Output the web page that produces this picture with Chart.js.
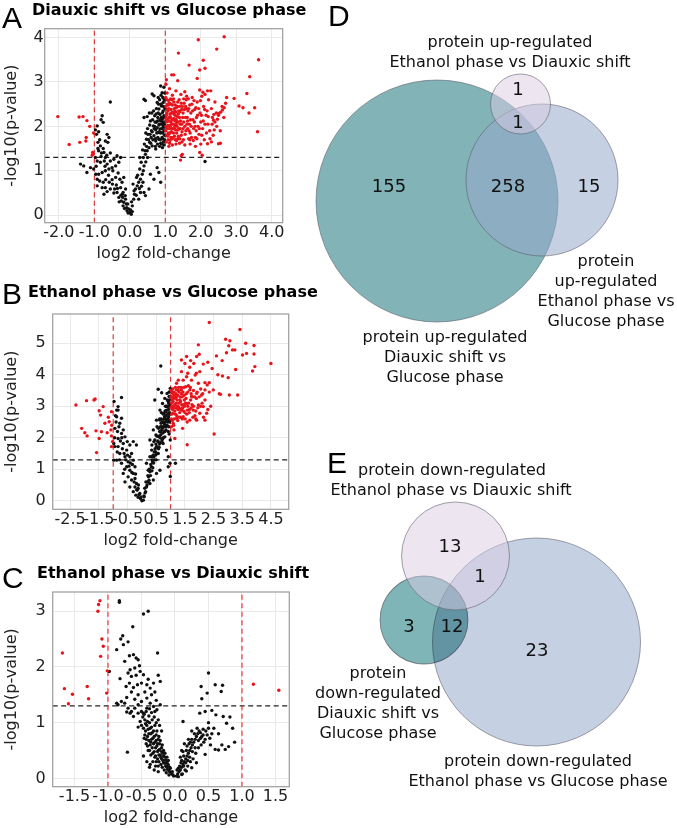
<!DOCTYPE html>
<html><head><meta charset="utf-8">
<script src="https://cdn.jsdelivr.net/npm/chart.js@4/dist/chart.umd.min.js"></script>
<style>
body{margin:0;width:677px;height:828px;position:relative;background:#fff;overflow:hidden;font-family:"DejaVu Sans",sans-serif;color:#111;}
canvas{position:absolute;}
.letter{position:absolute;font-family:"Liberation Sans",Arial,sans-serif;font-size:30px;line-height:1;color:#000;z-index:2;}
.ptitle{position:absolute;font-weight:bold;font-size:16px;line-height:1;white-space:nowrap;color:#000;z-index:2;}
.vl{position:absolute;font-size:16px;line-height:20px;white-space:nowrap;transform:translateX(-50%);color:#111;z-index:2;}
</style></head>
<body>
<canvas id="cA" width="300" height="263" style="left:0px;top:0px"></canvas>
<canvas id="cB" width="300" height="280" style="left:0px;top:270px"></canvas>
<canvas id="cC" width="300" height="267" style="left:0px;top:560px"></canvas>
<canvas id="cD" width="377" height="400" style="left:300px;top:0px"></canvas>
<canvas id="cE" width="377" height="428" style="left:300px;top:400px"></canvas>

<div class="letter" style="left:2px;top:3px">A</div>
<div class="ptitle" style="left:32px;top:2px">Diauxic shift vs Glucose phase</div>
<div class="letter" style="left:2px;top:279px">B</div>
<div class="ptitle" style="left:28px;top:284px">Ethanol phase vs Glucose phase</div>
<div class="letter" style="left:2px;top:563px">C</div>
<div class="ptitle" style="left:37px;top:565px">Ethanol phase vs Diauxic shift</div>
<div class="letter" style="left:328px;top:1px">D</div>
<div class="letter" style="left:327px;top:448px">E</div>

<div class="vl" style="left:510px;top:32px">protein up-regulated</div>
<div class="vl" style="left:510px;top:52px">Ethanol phase vs Diauxic shift</div>
<div class="vl" style="left:606px;top:251px">protein</div>
<div class="vl" style="left:606px;top:271px">up-regulated</div>
<div class="vl" style="left:606px;top:291px">Ethanol phase vs</div>
<div class="vl" style="left:606px;top:311px">Glucose phase</div>
<div class="vl" style="left:445px;top:327px">protein up-regulated</div>
<div class="vl" style="left:445px;top:347px">Diauxic shift vs</div>
<div class="vl" style="left:445px;top:367px">Glucose phase</div>

<div class="vl" style="left:452px;top:460px">protein down-regulated</div>
<div class="vl" style="left:451px;top:480px">Ethanol phase vs Diauxic shift</div>
<div class="vl" style="left:378px;top:663px">protein</div>
<div class="vl" style="left:378px;top:683px">down-regulated</div>
<div class="vl" style="left:378px;top:703px">Diauxic shift vs</div>
<div class="vl" style="left:378px;top:723px">Glucose phase</div>
<div class="vl" style="left:538px;top:751px">protein down-regulated</div>
<div class="vl" style="left:538px;top:771px">Ethanol phase vs Glucose phase</div>

<script>
// ---------- Panel A: Diauxic shift vs Glucose phase ----------
const aSig = [
[-2.03,2.22],[-1.71,1.59],[-1.43,2.21],[-1.32,2.22],[-1.21,2.13],[-1.13,2.0],[-1.41,1.64],[-1.24,1.67],[-1.23,1.75],[-1.02,1.85],[-1.05,1.41],[-1.06,1.35],[-1.03,1.38],
[1.93,3.95],[2.66,4.02],[1.37,3.65],[2.45,3.74],[1.67,3.38],[2.07,3.49],[1.97,3.27],[2.12,3.31],[3.63,3.5],[3.38,3.12],[1.9,3.08],[1.18,3.16],[1.24,3.16],[1.03,3.05],[1.35,3.03],[1.02,2.95],
[3.3,2.74],[3.52,2.42],[3.36,2.3],[3.6,1.88],[3.08,2.46],[3.19,2.42],[2.94,2.63],[2.73,2.65],[2.7,2.52],[2.66,2.42],[2.61,2.37],[2.56,2.32],[2.51,2.29],[2.37,2.27],[2.33,2.2],[2.47,2.16],[2.36,2.14],[2.28,2.8],[2.19,2.8],[2.12,2.72],[1.97,2.82],[2.03,2.68],[2.06,2.77],
[2.5,1.61],[2.19,1.61],[1.69,1.7],[1.48,1.37],[1.97,1.41],[1.43,1.24],[2.04,1.35],[1.45,1.34],
[1.02,2.45],[1.05,2.6],[1.08,2.35],[1.1,2.2],[1.03,2.1],[1.06,1.95],[1.04,1.8],[1.08,1.7],[1.12,1.62],[1.15,2.5],[1.18,2.3],[1.2,2.15],[1.14,2.0],[1.17,1.88],[1.22,1.75],[1.25,2.4],[1.28,2.25],[1.3,2.05],[1.26,1.95],[1.32,1.85],[1.35,2.55],[1.38,2.35],[1.4,2.2],[1.36,2.1],[1.42,1.95],[1.45,1.8],[1.48,2.45],[1.5,2.3],[1.52,2.1],[1.55,2.0],[1.47,1.65],[1.58,1.9],[1.6,2.4],[1.62,2.2],[1.65,2.62],[1.68,2.05],[1.7,1.85],[1.72,2.3],[1.75,2.5],[1.78,2.15],[1.8,1.95],[1.83,2.38],[1.85,1.75],[1.88,2.2],[1.9,2.55],[1.92,2.0],[1.95,1.82],[1.98,2.3],[2.0,2.1],[2.05,1.95],[2.08,2.45],[2.1,1.7],[2.15,2.25],[2.2,2.05],[2.25,1.9],[2.3,2.4],[2.35,1.8],[2.4,2.1],[2.45,2.0],[2.5,2.25],[2.55,1.9],
[1.05,2.75],[1.12,2.85],[1.2,2.7],[1.3,2.8],[1.44,2.72],[1.55,2.78],[1.6,2.68],[1.1,1.55],[1.2,1.58],[1.3,1.6],[1.4,1.62],[1.55,1.58],[1.7,1.6],[1.85,1.55],[2.0,1.6],[2.3,1.65],[2.55,1.62],
[1.1,1.82],[1.16,2.38],[1.22,2.05],[1.34,2.45],[1.28,1.7],[1.03,2.25],[1.07,2.02],[1.11,2.12],[1.09,2.48],[1.13,2.28],[1.19,1.95],[1.24,2.55],[1.27,2.12],[1.37,1.78],[1.41,2.33],[1.46,2.05],[1.53,2.52],[1.57,2.2],[1.63,1.95],[1.66,1.72],[1.73,2.0],[1.76,2.65],[1.82,2.1],[1.87,1.9],[1.94,2.4],[2.02,2.25],[2.12,2.05],[2.18,2.35],[2.22,2.6],[2.4,2.55],[2.6,2.45],[2.65,2.2],
[1.01,1.9],[1.02,2.0],[1.04,2.3],[1.06,2.15],[1.08,1.85],[1.1,2.4],[1.12,1.95],[1.14,2.22],[1.16,1.75],[1.18,2.05],[1.2,2.48],[1.23,1.85],[1.25,2.18],[1.27,2.35],[1.29,1.92],[1.31,2.15],[1.33,2.0],[1.35,1.72],[1.38,1.95],[1.4,2.45],
[1.01,2.65],[1.03,1.65],[1.05,2.38],[1.07,1.78],[1.09,2.58],[1.11,2.02],[1.13,1.68],[1.15,2.62],[1.17,2.18],[1.19,1.72],[1.21,2.32],[1.23,2.62],[1.26,1.78],[1.28,2.48],[1.3,2.32],[1.32,1.68],[1.34,2.22],[1.36,1.92],[1.39,2.6],[1.41,1.72],[1.43,2.12],[1.45,2.52],[1.47,1.88],[1.49,2.2],[1.51,1.7],[1.54,2.38],[1.56,1.82],[1.59,2.6],[1.61,2.05],[1.64,2.35],[1.67,1.9],[1.69,2.48],[1.71,2.15],[1.74,1.75],[1.77,2.35],[1.79,1.68],[1.81,2.58],[1.84,2.0],[1.86,2.42],[1.89,1.72],[1.91,2.25],[1.96,1.95],[1.99,2.58],[2.03,1.8],[2.07,2.12],[2.11,2.38],[2.16,1.85],[2.21,2.22],[2.26,1.72],[2.32,2.05],[2.38,1.92],[2.44,2.3],[1.02,2.18],[1.04,1.98],[1.06,2.5],[1.08,2.12],[1.12,2.52],[1.14,1.86],[1.16,2.1],[1.18,2.6],[1.21,1.95],[1.24,2.28],[1.27,2.0],[1.31,2.42],[1.33,2.1],[1.37,2.28],[1.42,2.05],[1.46,2.38],[1.5,1.95],[1.52,2.62],[1.57,2.45],[1.63,2.12],[1.66,2.4]
];
const aNs = [
[-0.55,2.55],[-0.78,2.24],[-0.81,2.15],[-0.75,2.09],[-0.92,2.01],[-0.97,1.92],[-0.88,1.88],[-0.94,1.82],[-0.64,1.82],[-0.59,1.75],[-0.69,1.67],[-0.62,1.64],[-0.9,1.64],[-0.83,1.56],[-0.75,1.5],[-0.88,1.45],[-0.73,1.41],[-0.81,1.32],[-0.69,1.3],[-0.97,1.3],[-0.92,1.22],[-0.83,1.19],[-0.72,1.22],[-0.64,1.15],[-0.55,1.22],[-0.45,1.26],[-0.36,1.34],[-0.26,1.3],[-0.31,1.19],[-0.4,1.11],[-0.5,1.07],[-0.59,1.04],[-0.69,1.0],[-0.78,0.96],[-0.88,0.92],[-0.92,0.81],[-0.85,0.77],[-0.75,0.74],[-0.68,0.8],[-0.58,0.74],[-0.49,0.7],[-0.43,0.59],[-0.36,0.51],[-0.26,0.62],[-0.22,0.74],[-0.17,0.85],[-0.28,0.81],[-0.38,0.68],[-0.55,0.59],[-0.64,0.53],[-0.73,0.47],[-0.69,0.62],[-0.78,0.62],[-0.31,0.4],[-0.24,0.32],[-0.17,0.29],[-0.12,0.36],[-0.19,0.21],[-0.09,0.17],[-0.03,0.14],[-0.08,0.1],[0,0.06],[0.04,0.02],[0.07,0.08],[-0.06,0.25],[-0.13,0.44],[-0.21,0.47],[-1.3,1.11],[-1.21,0.96],[-1.39,1.15],[-1.11,1.07],[-1.02,1.04],[-0.96,0.92],[-0.92,0.66],[-0.19,0.51],[-0.12,0.59],
[0.07,0.21],[0.11,0.36],[0.13,0.47],[0.16,0.59],[0.21,0.66],[0.09,0.7],[0.25,0.74],[0.3,0.81],[0.19,0.85],[0.35,0.92],[0.28,1.04],[0.4,1.11],[0.32,1.19],[0.38,1.3],[0.44,1.37],[0.49,1.45],[0.36,1.47],[0.54,1.52],[0.41,1.6],[0.56,1.64],[0.47,1.71],[0.6,1.75],[0.68,1.79],[0.51,1.82],[0.63,1.88],[0.73,1.92],[0.77,1.97],[0.82,2.03],[0.66,2.01],[0.56,2.03],[0.75,2.09],[0.87,2.12],[0.91,2.16],[0.79,2.2],[0.7,2.24],[0.85,2.27],[0.92,2.31],[0.4,2.2],[0.49,2.22],[0.58,2.12],[0.82,2.39],[0.89,2.46],[0.94,2.54],[0.77,2.54],[0.68,2.69],[0.91,2.76],[0.96,2.88],[0.87,2.91],[0.63,2.73],[0.44,2.58],[0.4,2.61],[0.73,1.67],[0.82,1.71],[0.91,1.75],[0.89,1.86],[0.96,1.9],[0.79,1.86],[0.94,2.01],[0.96,2.24],[0.85,1.94],[0.63,1.56],[0.73,1.49],[0.82,0.96],[0.77,1.07],[0.68,0.81],[0.87,0.74],[0.58,0.92],[0.54,0.59],[0.44,0.44],[0.4,0.51],[0.3,0.51],[0.25,0.36],[0.37,0.74],[0.28,1.3],
[0.95,1.65],[0.98,1.8],[0.93,2.1],[0.97,2.2],[0.99,2.4],[0.9,1.6],[0.86,1.85],[0.84,2.05],[0.8,2.3],[0.92,1.72],[0.97,2.6],[0.88,2.5],[0.75,2.4],[0.7,2.0],[0.62,2.3],[0.96,1.98],[0.99,2.1],[0.94,2.35],[0.9,1.95],[0.86,1.7],[2.12,1.21],
[0.98,1.7],[0.97,2.05],[0.95,2.45],[0.93,1.85],[0.91,2.05],[0.89,2.2],[0.87,1.62],[0.85,2.15],[0.83,1.88],[0.81,2.5],[0.79,1.75],[0.78,2.12],[0.76,1.85],[0.74,2.28],[0.72,1.72],[0.71,2.1],[0.69,1.95],[0.67,2.35],[0.65,1.7],[0.64,2.15],[0.61,1.9],[0.59,1.62],[0.57,1.82],[0.55,2.3],[0.53,1.7],[0.5,1.95],[0.47,1.55],[0.45,1.85],[0.43,1.45],[0.99,2.6],[0.98,2.75],[0.93,2.65],[0.88,2.7],[0.84,2.6],[0.8,2.65],[0.96,1.58],[0.92,1.52],[0.84,1.55],[0.78,1.6],[0.72,1.55],
[-0.85,1.7],[-0.8,1.4],[-0.7,1.1],[-0.6,0.9],[-0.5,0.8],[-0.45,0.5],[-0.35,0.6],[-0.3,0.3],[-0.2,0.4],[-0.15,0.15],[-0.1,0.25],[-0.05,0.05],[-0.95,1.1],[-0.9,1.5],[-0.65,1.35],[-0.55,1.4],[-0.48,1.0],[-0.4,0.85],[-0.33,0.95],[-0.25,0.45],[0.02,0.12],[0.05,0.3],[0.12,0.55],[0.18,0.45],[0.22,0.9],[0.27,0.6],[0.33,0.65],[0.38,1.0],[0.45,1.2],[0.5,1.3]
];
const aXTicks = [-2, -1, 0, 1, 2, 3, 4];
const aXLabels = ["-2.0", "-1.0", "0.0", "1.0", "2.0", "3.0", "4.0"];
const aYTicks = [0, 1, 2, 3, 4];

// ---------- Panel B: Ethanol phase vs Glucose phase ----------
const bSig = [
[-2.3,3.04],[-1.93,3.18],[-1.67,3.2],[-1.63,3.23],[-1.35,2.99],[-1.49,2.86],[-1.44,2.72],[-1.17,2.65],[-1.06,2.83],[-1.14,2.51],[-1.05,2.4],[-1.29,2.46],[-1.41,2.19],[-1.21,2.16],[-1.06,2.06],[-1.02,1.88],[-1.6,2.22],[-2.1,2.3],[-1.99,2.16],[-1.91,2.06],[-1.49,1.98],[-1.58,1.53],[-1.06,1.72],[-1.08,2.25],
[2.35,5.66],[3.42,5.44],[2.92,5.13],[3.07,5.08],[3.03,4.92],[3.24,4.79],[3.16,4.79],[3.62,5.0],[3.91,4.93],[3.65,4.68],[3.51,4.63],[3.91,4.66],[4.5,4.36],[3.94,4.26],[3.86,4.12],[3.27,4.17],[3.01,3.91],[2.81,3.96],[3.34,3.36],[3.05,3.36],[2.74,3.38],[2.52,2.12],[2.49,3.52],[2.28,3.68],[2.35,3.75],[2.2,3.75],[1.97,4.95],[1.91,4.58],[1.81,4.36],[2.14,4.34],[2.02,4.1],[1.86,3.99],[1.67,4.24],[1.56,4.58],[1.38,4.47],[1.5,4.36],[1.38,4.1],[1.56,3.94],[1.44,3.83],[1.27,3.83],[1.21,3.73],[1.73,3.83],[1.97,3.73],[2.2,3.52],[2.08,3.36],[1.91,3.41],[1.73,3.31],[1.56,3.09],[1.38,2.88],[1.21,2.62],[1.09,2.46],[1.03,2.35],[1.12,2.25],[1.42,2.3],[1.58,1.78],[1.27,2.99],[1.44,2.67],[1.67,2.56],[1.91,2.56],[2.2,2.56],[2.02,2.78],[1.79,2.88],[1.58,2.88],[1.33,3.2],[1.15,3.31],[1.07,3.41],[1.03,2.99],[1.09,2.78],[1.21,3.52],[1.38,3.52],[1.53,3.62],[1.67,3.52],[2.26,2.78],[2.14,2.99],[1.97,3.04],[1.15,1.98],
[1.05,3.2],[1.1,3.0],[1.15,2.85],[1.2,3.1],[1.25,3.35],[1.3,2.95],[1.35,3.15],[1.4,3.3],[1.45,3.05],[1.5,2.8],[1.02,3.5],[1.08,3.55],[1.12,3.45],[1.18,3.25],[1.22,2.7],[1.28,3.6],[1.32,2.8],[1.38,3.4],[1.42,2.95],[1.48,3.2],[1.55,3.4],[1.6,3.0],[1.65,2.8],[1.7,3.2],[1.75,3.05],[1.8,3.5],[1.85,2.7],[1.9,3.25],[1.95,2.95],[2.0,3.3],[1.04,2.75],[1.06,2.55],[1.13,2.6],[1.17,3.6],[1.24,3.0],[1.3,3.45],[1.36,2.65],[1.46,3.6],[1.52,3.1],[1.62,3.65],[1.72,3.4],[1.78,2.65],[2.05,3.55],[2.1,3.1],[1.9,4.05],[1.7,4.45],[2.3,4.4],[2.45,4.2],[2.6,4.6],[2.8,4.45],[2.95,4.7],[2.65,4.0],[2.0,4.65],[1.6,4.05],[2.7,3.4],[2.4,3.0],[2.15,2.65],[1.88,2.6],[1.58,2.5],
[1.01,3.3],[1.03,2.6],[1.05,3.45],[1.07,2.9],[1.09,3.15],[1.11,2.4],[1.13,3.35],[1.15,3.05],[1.17,2.75],[1.19,3.4],[1.21,2.95],[1.23,3.2],[1.25,2.55],[1.27,3.5],[1.29,3.1],[1.31,2.65],[1.33,3.3],[1.35,2.9],[1.37,3.6],[1.39,3.05],[1.41,2.6],[1.43,3.45],[1.45,2.85],[1.47,3.35],[1.49,3.0],[1.51,2.6],[1.54,3.25],[1.57,2.75],[1.6,3.45],[1.63,3.1],[1.66,2.9],[1.69,3.6],[1.72,2.95],[1.76,3.3],[1.8,3.0],[1.84,3.3],[1.88,2.85],[1.93,3.45],[2.05,3.0],[2.12,3.4],[2.2,3.2],[2.3,2.9],[2.35,3.45],[1.02,2.95],[1.04,3.1],[1.06,3.3],[1.1,3.25],[1.14,2.95],[1.2,3.3],[1.26,2.9]
];
const bNs = [
[-0.97,3.15],[-0.71,3.28],[-0.83,2.88],[-0.88,2.67],[-0.77,2.46],[-0.94,2.3],[-0.71,2.14],[-0.59,2.03],[-0.83,1.98],[-0.98,1.82],[-0.94,1.72],[-0.65,1.82],[-0.53,1.61],[-0.42,1.77],[-0.3,1.88],[-0.19,1.77],[-0.77,1.5],[-0.59,1.4],[-0.48,1.24],[-0.36,1.5],[-0.3,1.29],[-0.88,1.29],[-0.71,1.19],[-0.53,1.08],[-0.42,0.97],[-0.3,0.87],[-0.24,0.71],[-0.19,0.55],[-0.13,0.39],[-0.07,0.23],[-0.05,0.07],[0,0],[-0.16,0.34],[-0.24,0.44],[-0.36,0.66],[-0.48,0.76],[-0.65,0.87],[-0.59,0.6],[-0.42,0.44],[-0.3,0.29],[-0.21,0.18],[-0.13,0.11],[-0.83,1.72],[-0.51,1.88],[-0.71,2.62],[-0.88,2.88],[-0.83,2.99],[-0.98,1.29],[-0.65,2.25],[-0.42,1.4],[-0.24,1.08],
[0.05,0.02],[0.08,0.13],[0.13,0.29],[0.16,0.44],[0.2,0.6],[0.23,0.76],[0.28,0.92],[0.33,1.08],[0.37,1.24],[0.42,1.4],[0.47,1.56],[0.51,1.72],[0.56,1.88],[0.6,2.03],[0.65,2.19],[0.7,2.35],[0.74,2.51],[0.79,2.67],[0.84,2.83],[0.88,2.99],[0.92,3.15],[0.95,3.31],[0.98,3.46],[0.99,3.57],[0.72,3.09],[0.63,2.88],[0.51,2.56],[0.4,2.25],[0.28,1.93],[0.34,1.61],[0.16,1.19],[0.22,0.97],[0.49,2.09],[0.58,2.3],[0.67,2.46],[0.77,2.78],[0.86,2.88],[0.93,2.67],[0.98,2.56],[0.8,2.4],[0.63,2.56],[0.53,2.35],[0.45,1.93],[0.34,1.4],[0.28,1.4],[0.57,1.5],[0.63,0.97],[0.51,0.87],[0.4,0.66],[0.28,0.55],[0.86,1.61],[0.92,1.4],[0.98,1.19],[0.74,1.82],[0.8,2.03],[0.57,3.54],[0.69,3.43],[0.45,3.2],[0.8,3.25],[0.88,3.41],[0.94,2.35],[0.99,1.93],[0.95,2.12],[0.84,2.25],[0.92,1.08],[0.42,1.88],[0.35,1.77],
[0.9,3.0],[0.85,2.6],[0.95,2.8],[0.8,2.2],[0.75,2.0],[0.7,1.9],[0.88,2.4],[0.92,2.2],[0.96,3.0],[0.82,3.0],[0.78,2.45],[0.72,2.3],[0.66,2.1],[0.6,1.7],[0.55,1.5],[0.5,1.3],[0.62,2.6],[0.68,2.8],[0.97,3.2],[0.9,2.5],[0.66,4.28],[1.17,1.19],[0.99,0.77],
[0.99,3.3],[0.98,3.05],[0.97,2.75],[0.96,2.5],[0.95,3.45],[0.94,3.1],[0.93,2.9],[0.91,2.6],[0.9,2.75],[0.89,3.2],[0.87,2.55],[0.86,3.0],[0.85,2.35],[0.83,2.7],[0.82,2.5],[0.81,2.85],[0.79,2.2],[0.78,2.6],[0.76,2.35],[0.75,2.75],[0.73,2.15],[0.72,2.5],[0.71,1.95],[0.69,2.25],[0.68,2.6],[0.66,1.85],[0.65,2.35],[0.64,2.0],[0.62,2.2],[0.61,1.8],[0.59,2.05],[0.58,1.65],[0.56,1.9],[0.54,1.7],[0.53,2.05],[0.52,1.5],[0.49,1.8],[0.48,1.45],[0.46,1.65],[0.44,1.3],[0.43,1.55],[0.41,1.2],[0.39,1.45],[0.38,1.05],[0.36,1.3],[0.35,0.95],[0.31,1.15],[0.3,0.8],[0.26,1.0],[0.25,0.65],[0.21,0.8],[0.18,0.5],[0.14,0.6],[0.11,0.25],[0.1,0.4],[0.07,0.15],
[-0.9,2.5],[-0.85,2.2],[-0.8,2.35],[-0.75,1.9],[-0.7,2.0],[-0.68,1.65],[-0.62,1.5],[-0.56,1.3],[-0.5,1.45],[-0.45,1.1],[-0.4,1.2],[-0.35,0.9],[-0.33,1.15],[-0.27,0.6],[-0.22,0.85],[-0.18,0.35],[-0.12,0.5],[-0.1,0.2],[-0.03,0.12],[-0.95,2.0],[-0.92,2.7],[-0.86,1.55],[-0.78,1.3],[-0.6,1.0]
];
const bXTicks = [-2.5, -1.5, -0.5, 0.5, 1.5, 2.5, 3.5, 4.5];
const bXLabels = ["-2.5", "-1.5", "-0.5", "0.5", "1.5", "2.5", "3.5", "4.5"];
const bYTicks = [0, 1, 2, 3, 4, 5];

// ---------- Panel C: Ethanol phase vs Diauxic shift ----------
const cSig = [
[-1.12,3.19],[-1.14,3.12],[-1.15,3.0],[-1.09,2.5],[-1.07,2.37],[-1.11,2.19],[-1.68,2.25],[-1.65,1.61],[-1.53,1.51],[-1.59,1.34],[-1.31,1.65],[-1.29,1.43],[-1.02,1.53],[-1.01,1.93],[1.17,1.69],[1.55,1.58]
];
const cNs = [
[-0.83,3.19],[-0.83,3.16],[-0.4,3.0],[-0.47,2.95],[-0.63,2.72],[-0.78,2.56],[-0.81,2.5],[-0.77,2.4],[-0.87,2.31],[-0.26,2.25],[-0.98,1.92],[-0.62,2.22],[-0.58,2.16],[-0.55,2.13],[-0.53,2.02],[-0.67,1.95],[-0.7,1.89],[-0.65,1.83],[-0.6,1.98],[-0.52,1.92],[-0.47,1.86],[-0.5,1.71],[-0.42,1.68],[-0.37,1.62],[-0.25,1.85],[-0.32,1.71],[-0.22,1.74],[-0.82,1.79],[-0.68,1.71],[-0.73,1.65],[-0.62,1.63],[-0.56,1.68],
[-0.87,1.35],[-0.85,1.32],[-0.8,1.38],[-0.75,1.35],[-0.7,1.26],[-0.65,1.2],[-0.6,1.26],[-0.55,1.32],[-0.5,1.38],[-0.42,1.44],[-0.37,1.35],[-0.32,1.29],[-0.27,1.23],[-0.22,1.32],[-0.42,1.26],[-0.47,1.17],[-0.55,1.17],[-0.62,1.11],[-0.67,1.17],[-0.72,1.19],
[-0.45,1.05],[-0.42,0.95],[-0.4,0.88],[-0.38,1.0],[-0.36,0.8],[-0.35,0.92],[-0.33,0.72],[-0.32,0.85],[-0.3,0.65],[-0.3,0.95],[-0.28,0.78],[-0.27,0.58],[-0.25,0.7],[-0.25,0.5],[-0.23,0.62],[-0.22,0.42],[-0.2,0.55],[-0.2,0.35],[-0.18,0.45],[-0.17,0.28],[-0.15,0.38],[-0.14,0.22],[-0.12,0.3],[-0.11,0.16],[-0.1,0.24],[-0.08,0.12],[-0.07,0.18],[-0.05,0.08],[-0.04,0.12],[-0.02,0.04],[-0.44,0.85],[-0.41,0.75],[-0.39,0.68],[-0.37,0.6],[-0.34,0.55],[-0.31,0.48],[-0.29,0.4],[-0.26,0.35],[-0.24,0.3],[-0.21,0.25],[-0.19,0.2],[-0.16,0.15],[-0.13,0.1],[-0.09,0.06],[-0.48,1.1],[-0.5,0.95],[-0.46,0.72],[-0.43,0.62],[-0.4,0.5],[-0.36,0.42],[-0.33,0.3],[-0.29,0.22],[-0.27,0.85],[-0.24,0.75],[-0.22,0.68],[-0.19,0.6],[-0.17,0.5],[-0.15,0.45],[-0.12,0.38],[-0.1,0.32],[-0.34,1.05],[-0.31,1.1],[-0.28,1.0],[-0.39,1.12],[-0.52,1.02],[-0.55,0.92],[-0.47,0.4],[-0.42,0.3],[-0.38,0.2],[-0.31,0.15],[-0.25,0.12],[-0.71,0.47],[-0.37,0.25],[-0.25,0.22],
[-0.44,0.98],[-0.41,1.02],[-0.39,0.8],[-0.37,0.9],[-0.35,0.7],[-0.34,0.82],[-0.32,0.62],[-0.31,0.75],[-0.29,0.55],[-0.28,0.68],[-0.26,0.48],[-0.26,0.62],[-0.24,0.42],[-0.23,0.52],[-0.21,0.38],[-0.2,0.48],[-0.18,0.32],[-0.17,0.4],[-0.15,0.27],[-0.14,0.33],[-0.12,0.2],[-0.11,0.26],[-0.09,0.14],[-0.08,0.2],[-0.06,0.1],[-0.03,0.06],[-0.47,0.9],[-0.45,0.78],[-0.43,0.7],[-0.41,0.58],[-0.38,0.5],[-0.36,0.65],[-0.33,0.45],[-0.3,0.38],[-0.28,0.3],[-0.5,1.2],[-0.46,1.15],[-0.43,1.2],[-0.38,1.25],[-0.35,1.18],[-0.3,1.2],[-0.25,1.05],[-0.23,0.95],[-0.2,0.85],[-0.55,1.5],[-0.6,1.42],[-0.65,1.55],[-0.72,1.45],[-0.45,1.55],[-0.35,1.5],[-0.4,1.78],[-0.3,1.55],[-0.28,1.4],[-0.58,1.85],[-0.75,2.1],[-0.68,2.2],[-0.7,2.45],
[0.02,0.04],[0.04,0.08],[0.06,0.12],[0.08,0.15],[0.1,0.2],[0.12,0.25],[0.14,0.3],[0.16,0.35],[0.18,0.4],[0.2,0.45],[0.22,0.5],[0.24,0.55],[0.26,0.6],[0.28,0.65],[0.3,0.7],[0.32,0.75],[0.34,0.8],[0.36,0.85],[0.05,0.18],[0.09,0.28],[0.13,0.4],[0.17,0.5],[0.21,0.62],[0.25,0.7],[0.29,0.8],[0.33,0.9],[0.38,0.82],[0.4,0.75],[0.42,0.88],[0.45,0.7],[0.48,0.78],[0.5,0.9],[0.11,0.08],[0.15,0.15],[0.19,0.22],[0.23,0.3],[0.27,0.35],[0.31,0.45],[0.35,0.55],[0.39,0.6],[0.43,0.65],[0.14,0.62],[0.1,0.5],[0.2,0.7],[0.25,0.85],
[0.12,1.02],[0.5,1.89],[0.39,1.65],[0.6,1.68],[0.71,1.67],[0.69,1.56],[0.48,1.53],[0.4,1.43],[0.37,1.17],[0.55,1.22],[0.61,1.14],[0.72,1.11],[0.82,1.1],[0.77,0.99],[0.86,0.9],[0.89,0.65],[0.8,0.57],[0.65,0.51],[0.53,0.6],[0.45,0.43],[0.32,0.28],[0.25,0.19],[0.17,0.13],[0.1,0.07],[0.05,0.03],[0.6,0.52],[0.7,0.6],[0.75,0.52],[0.5,1.0],[0.45,1.2],[0.58,0.9],[0.65,0.8],
[0.03,0.15],[0.07,0.22],[0.1,0.32],[0.13,0.22],[0.16,0.28],[0.19,0.32],[0.22,0.38],[0.26,0.48],[0.3,0.55],[0.35,0.68],[0.38,0.72],[0.42,0.78],[0.46,0.85],[0.52,0.72],[0.55,0.8],[0.08,0.38],[0.12,0.48],[0.18,0.58],[0.23,0.65]
];
const cXTicks = [-1.5, -1, -0.5, 0, 0.5, 1, 1.5];
const cXLabels = ["-1.5", "-1.0", "-0.5", "0.0", "0.5", "1.0", "1.5"];
const cYTicks = [0, 1, 2, 3];

// thresholds: |log2 FC| = 1 and -log10(0.05)
const fcCut = [-1, 1];
const pCut = [1.3];

// ---------- Venn D / E counts ----------
const dCounts = ["155", "258", "15", "1", "1"];
const eCounts = ["13", "1", "3", "12", "23"];

Chart.defaults.font.family = "'DejaVu Sans', sans-serif";
Chart.defaults.color = '#222';

const framePlugin = {
  id: 'frame',
  afterDraw(c) {
    const a = c.chartArea, x = c.ctx;
    x.save(); x.strokeStyle = '#9c9c9c'; x.lineWidth = 1.2;
    x.strokeRect(a.left, a.top, a.right - a.left, a.bottom - a.top);
    x.restore();
  }
};

function volcano(id, o) {
  const pts = arr => arr.map(p => ({x: p[0], y: p[1]}));
  const ds = [
    {data: pts(o.ns), backgroundColor: '#111', borderWidth: 0, pointRadius: 1.7, order: 1},
    {data: pts(o.sig), backgroundColor: '#e8141c', borderWidth: 0, pointRadius: 1.7, order: 0}
  ];
  fcCut.forEach(v => ds.push({type: 'line', data: [{x: v, y: o.yMin}, {x: v, y: o.yMax}],
    borderColor: '#e03838', borderWidth: 1.2, borderDash: [5, 3.5], pointRadius: 0, order: 5}));
  pCut.forEach(v => ds.push({type: 'line', data: [{x: o.xMin, y: v}, {x: o.xMax, y: v}],
    borderColor: '#222', borderWidth: 1.2, borderDash: [5, 3.5], pointRadius: 0, order: 5}));
  new Chart(document.getElementById(id), {
    type: 'scatter',
    data: {datasets: ds},
    plugins: [framePlugin],
    options: {
      responsive: false, animation: false, devicePixelRatio: 1,
      events: [],
      layout: {autoPadding: false, padding: {top: o.padTop, right: o.padRight, left: 0, bottom: 0}},
      plugins: {legend: {display: false}, tooltip: {enabled: false}},
      scales: {
        x: {
          type: 'linear', min: o.xMin, max: o.xMax,
          afterBuildTicks: s => { s.ticks = o.xTicks.map(v => ({value: v})); },
          afterFit: s => { s.height = o.xH; },
          ticks: {autoSkip: false, maxRotation: 0, minRotation: 0, padding: 1,
            font: {size: 16}, color: '#222', callback: (v, i) => o.xLabels[i]},
          grid: {color: '#e9e9e9', lineWidth: 1, drawTicks: false},
          border: {display: false},
          title: {display: true, text: 'log2 fold-change', font: {size: 16}, color: '#222', padding: {top: 0, bottom: 0}}
        },
        y: {
          type: 'linear', min: o.yMin, max: o.yMax,
          afterBuildTicks: s => { s.ticks = o.yTicks.map(v => ({value: v})); },
          afterFit: s => { s.width = o.yW; },
          ticks: {autoSkip: false, padding: o.yPad, font: {size: 16}, color: '#222', callback: v => String(v)},
          grid: {color: '#e9e9e9', lineWidth: 1, drawTicks: false},
          border: {display: false},
          title: {display: true, text: '-log10(p-value)', font: {size: 16}, color: '#222', padding: {top: 2, bottom: 0}}
        }
      }
    }
  });
}

volcano('cA', {sig: aSig, ns: aNs, xTicks: aXTicks, xLabels: aXLabels, yTicks: aYTicks,
  xMin: -2.4, xMax: 4.31, yMin: -0.17, yMax: 4.2, padTop: 28.7, padRight: 17.3, yW: 44.7, xH: 40.3, yPad: 1});
volcano('cB', {sig: bSig, ns: bNs, xTicks: bXTicks, xLabels: bXLabels, yTicks: bYTicks,
  xMin: -3.11, xMax: 5.12, yMin: -0.27, yMax: 5.93, padTop: 44, padRight: 11.3, yW: 52.7, xH: 40.7, yPad: 7});
volcano('cC', {sig: cSig, ns: cNs, xTicks: cXTicks, xLabels: cXLabels, yTicks: cYTicks,
  xMin: -1.825, xMax: 1.706, yMin: -0.15, yMax: 3.345, padTop: 32, padRight: 10.7, yW: 52.7, xH: 40.3, yPad: 7});

// ---------- Venn diagrams (layout in canvas units) ----------
const countPlugin = {
  id: 'counts',
  afterDatasetsDraw(c, args, opts) {
    const x = c.ctx, sx = c.scales.x, sy = c.scales.y;
    x.save(); x.fillStyle = '#111'; x.font = "18px 'DejaVu Sans'";
    x.textAlign = 'center'; x.textBaseline = 'middle';
    opts.items.forEach(it => x.fillText(it.text, sx.getPixelForValue(it.x), sy.getPixelForValue(it.y)));
    x.restore();
  }
};
const blendPlugin = {
  id: 'blend',
  beforeDatasetDraw(c, args) {
    c.ctx.save();
    const m = c.data.datasets[args.index].blend;
    if (m) c.ctx.globalCompositeOperation = m;
  },
  afterDatasetDraw(c) { c.ctx.restore(); }
};

function venn(id, w, h, circles, labels) {
  new Chart(document.getElementById(id), {
    type: 'bubble',
    data: {datasets: circles.map(cc => ({
      data: [{x: cc.x, y: cc.y, r: cc.r}], backgroundColor: cc.fill, borderColor: 'rgba(90,90,100,0.7)',
      borderWidth: 0.8, order: cc.order, blend: cc.blend, clip: false
    }))},
    plugins: [countPlugin, blendPlugin],
    options: {
      responsive: false, animation: false, devicePixelRatio: 1, events: [],
      layout: {autoPadding: false, padding: 0},
      plugins: {legend: {display: false}, tooltip: {enabled: false}, counts: {items: labels}},
      scales: {x: {display: false, min: 0, max: w}, y: {display: false, min: 0, max: h, reverse: true}}
    }
  });
}

venn('cD', 377, 400, [
  {x: 137, y: 201, r: 121, fill: 'rgba(80,150,155,0.72)', order: 3},
  {x: 242, y: 180, r: 76, fill: 'rgba(150,170,204,0.55)', order: 2},
  {x: 220.5, y: 104, r: 30, fill: 'rgba(220,205,228,0.5)', order: 1}
], [
  {text: dCounts[0], x: 89, y: 187}, {text: dCounts[1], x: 208, y: 187}, {text: dCounts[2], x: 289, y: 187},
  {text: dCounts[3], x: 218, y: 90}, {text: dCounts[4], x: 218, y: 123}
]);

venn('cE', 377, 428, [
  {x: 236.5, y: 242, r: 104, fill: 'rgba(197,208,227,1)', order: 3},
  {x: 124, y: 220, r: 44, fill: 'rgba(128,181,184,1)', order: 2, blend: 'multiply'},
  {x: 155.5, y: 156, r: 54, fill: 'rgba(220,205,228,0.5)', order: 1}
], [
  {text: eCounts[0], x: 150, y: 147}, {text: eCounts[1], x: 180, y: 177}, {text: eCounts[2], x: 109, y: 227},
  {text: eCounts[3], x: 152, y: 227}, {text: eCounts[4], x: 237, y: 251}
]);
</script>
</body></html>
